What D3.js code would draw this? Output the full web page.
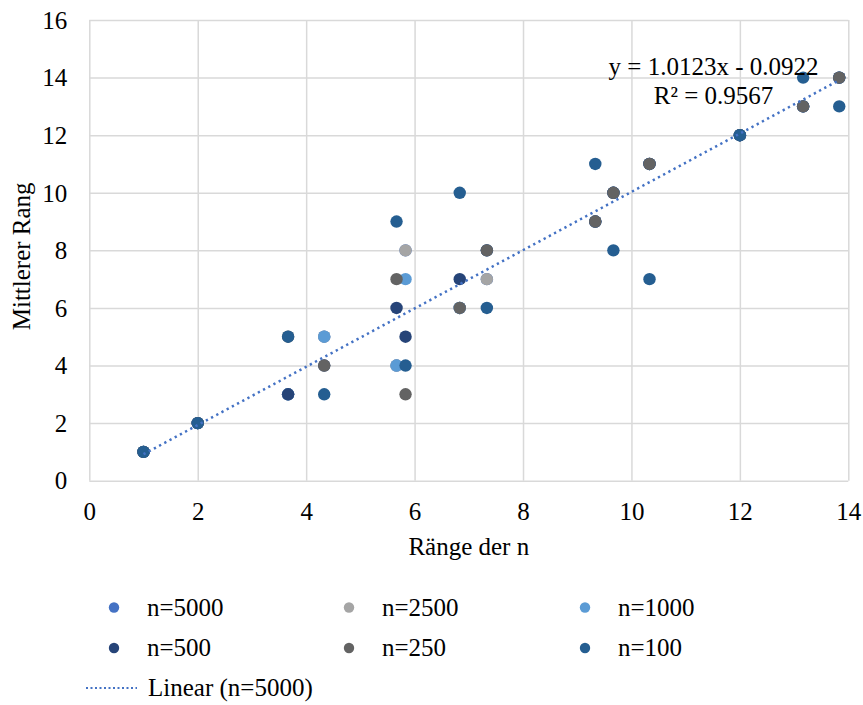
<!DOCTYPE html>
<html>
<head>
<meta charset="utf-8">
<script src="https://cdn.jsdelivr.net/npm/d3@7"></script>
<style>
  html, body { margin: 0; padding: 0; background: #fff; }
  svg { display: block; }
  svg text { font-family: "Liberation Serif", Tinos, "Times New Roman", Times, "DejaVu Serif", serif !important; fill: #000; }
</style>
</head>
<body>
<svg id="chart" width="863" height="705"></svg>
<script>
// Mean rank of each item across all sample sizes (x position)
const meanRanks = [1, 2, 3.667, 4.333, 5.667, 5.833, 6.833, 7.333, 9.333, 9.667, 10.333, 12, 13.167, 13.833];

// Rank of each item within each sample size (y position)
const rank5000 = [1, 2, 3, 5, 4, 8, 6, 7, 9, 10, 11, 12, 13, 14];
const rank2500 = [1, 2, 3, 5, 4, 8, 6, 7, 9, 10, 11, 12, 13, 14];
const rank1000 = [1, 2, 3, 5, 4, 7, 6, 8, 9, 10, 11, 12, 13, 14];
const rank500  = [1, 2, 3, 4, 6, 5, 7, 8, 9, 10, 11, 12, 13, 14];
const rank250  = [1, 2, 5, 4, 7, 3, 6, 8, 9, 10, 11, 12, 13, 14];
const rank100  = [1, 2, 5, 3, 9, 4, 10, 6, 11, 8, 7, 12, 14, 13];

const seriesNames = ["n=5000", "n=2500", "n=1000", "n=500", "n=250", "n=100"];
const seriesColors = ["#4472C4", "#A5A5A5", "#5B9BD5", "#264478", "#636363", "#255E91"];
const seriesValues = [rank5000, rank2500, rank1000, rank500, rank250, rank100];

// Linear trend for n=5000
const trendSlope = 1.0123;
const trendIntercept = -0.0922;
const trendR2 = 0.9567;

const xTicks = [0, 2, 4, 6, 8, 10, 12, 14];
const yTicks = [0, 2, 4, 6, 8, 10, 12, 14, 16];

const svg = d3.select("#chart");
const x = d3.scaleLinear().domain([0, 14]).range([89.3, 848.3]);
const y = d3.scaleLinear().domain([0, 16]).range([480.7, 20]);

const gridColor = "#d9d9d9";
const fontSize = "25px";

// Grid lines
svg.append("g")
  .attr("transform", `translate(0,${y(0)})`)
  .call(d3.axisBottom(x).tickValues(xTicks).tickSize(-(y(0) - y(16))).tickFormat(""))
  .call(g => g.select(".domain").remove())
  .call(g => g.selectAll("line").attr("stroke", gridColor).attr("stroke-width", 1.5));

svg.append("g")
  .attr("transform", `translate(${x(0)},0)`)
  .call(d3.axisLeft(y).tickValues(yTicks).tickSize(-(x(14) - x(0))).tickFormat(""))
  .call(g => g.select(".domain").remove())
  .call(g => g.selectAll("line").attr("stroke", gridColor).attr("stroke-width", 1.5));

// Tick labels
svg.append("g")
  .attr("transform", `translate(0,${y(0)})`)
  .call(d3.axisBottom(x).tickValues(xTicks).tickSize(0).tickPadding(0).tickFormat(d3.format("d")))
  .call(g => g.select(".domain").remove())
  .call(g => g.selectAll("text")
    .attr("y", 39).attr("dy", null)
    .style("font-size", fontSize));

svg.append("g")
  .attr("transform", `translate(${x(0)},0)`)
  .call(d3.axisLeft(y).tickValues(yTicks).tickSize(0).tickPadding(0).tickFormat(d3.format("d")))
  .call(g => g.select(".domain").remove())
  .call(g => g.selectAll("text")
    .attr("x", -22).attr("dy", "0.33em")
    .style("font-size", fontSize));

// Axis titles
svg.append("text")
  .attr("x", (x(0) + x(14)) / 2).attr("y", 555)
  .attr("text-anchor", "middle").style("font-size", fontSize)
  .text("Ränge der n");

svg.append("text")
  .attr("transform", `translate(30,${(y(0) + y(16)) / 2 + 6}) rotate(-90)`)
  .attr("text-anchor", "middle").style("font-size", fontSize)
  .text("Mittlerer Rang");

// Scatter points, n=5000 first so n=100 lies on top
seriesValues.forEach((vals, i) => {
  svg.append("g").selectAll("circle")
    .data(vals.map((v, j) => ({ mx: meanRanks[j], r: v })))
    .join("circle")
    .attr("cx", d => x(d.mx))
    .attr("cy", d => y(d.r))
    .attr("r", 6.2)
    .attr("fill", seriesColors[i]);
});

// Trend line over the data range
const xMin = d3.min(meanRanks), xMax = d3.max(meanRanks);
svg.append("line")
  .attr("x1", x(xMin)).attr("y1", y(trendSlope * xMin + trendIntercept))
  .attr("x2", x(xMax)).attr("y2", y(trendSlope * xMax + trendIntercept))
  .attr("stroke", "#4472C4").attr("stroke-width", 2.5)
  .attr("stroke-dasharray", "2.3 3.6");

// Trend equation
const eq = svg.append("text").attr("text-anchor", "middle").style("font-size", fontSize);
eq.append("tspan").attr("x", 713.5).attr("y", 74.5)
  .text(`y = ${trendSlope.toFixed(4)}x - ${Math.abs(trendIntercept).toFixed(4)}`);
eq.append("tspan").attr("x", 713.5).attr("y", 104)
  .text(`R² = ${trendR2.toFixed(4)}`);

// Legend
const legendCols = [114, 349, 585];
const legendRows = [607.5, 648];
seriesNames.forEach((name, i) => {
  const cx = legendCols[i % 3], cy = legendRows[Math.floor(i / 3)];
  svg.append("circle").attr("cx", cx).attr("cy", cy).attr("r", 5.2).attr("fill", seriesColors[i]);
  svg.append("text").attr("x", cx + 33).attr("y", cy + 8).style("font-size", fontSize).text(name);
});
svg.append("line")
  .attr("x1", 86).attr("y1", 688).attr("x2", 137).attr("y2", 688)
  .attr("stroke", "#4472C4").attr("stroke-width", 2.2)
  .attr("stroke-dasharray", "2 2.5");
svg.append("text").attr("x", 148).attr("y", 696).style("font-size", fontSize).text("Linear (n=5000)");
</script>
</body>
</html>
